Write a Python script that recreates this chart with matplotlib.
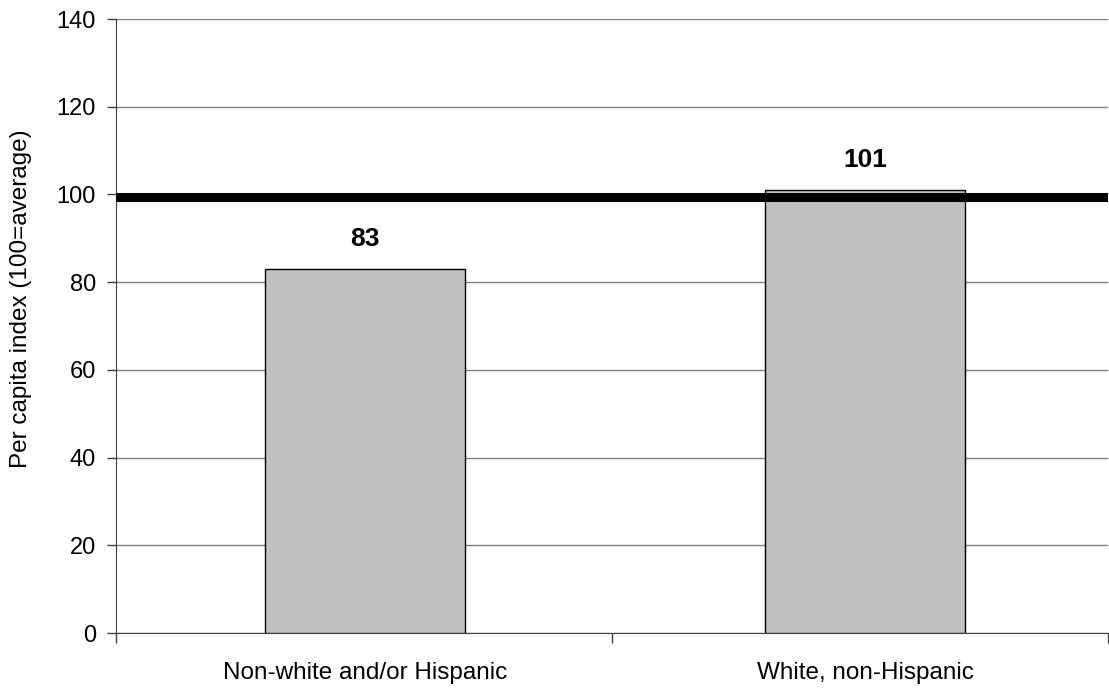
import matplotlib
matplotlib.use("Agg")
import matplotlib.pyplot as plt

categories = ["Non-white and/or Hispanic", "White, non-Hispanic"]
values = [83, 101]
labels = ["83", "101"]
avg_line = 99.5
yticks = [0, 20, 40, 60, 80, 100, 120, 140]

plt.rcParams['font.family'] = ['Liberation Sans', 'DejaVu Sans']

fig = plt.figure(figsize=(11.09, 6.89), dpi=100)
ax = fig.add_axes([116/1109, 1 - 633/689, (1108 - 116)/1109, (633 - 19)/689])

x = list(range(len(categories)))
ax.bar(x, values, width=0.4, color="#c0c0c0", edgecolor="black", linewidth=1.0, zorder=3)
for xi, v, lab in zip(x, values, labels):
    ax.text(xi, v + 6.9, lab, ha="center", va="center", fontsize=19, fontweight="bold")

ax.axhline(avg_line, color="black", linewidth=6.5, zorder=4)

xl, xr = -0.497, 1.485
ax.set_xlim(xl, xr)
ax.set_ylim(0, 140)
ax.set_yticks(yticks)
ax.tick_params(axis="y", labelsize=17, direction="out", length=6.5, width=1, color="#404040", pad=8)
ax.set_xticks([xl, (xl + xr) / 2, xr])
ax.set_xticklabels([])
ax.tick_params(axis="x", direction="out", length=7, width=1, color="#404040")
ax.set_xticks(x, minor=True)
ax.set_xticklabels(categories, minor=True)
ax.tick_params(axis="x", which="minor", length=0, labelsize=17.5, pad=21)

ax.grid(axis="y", color="#808080", linewidth=1.0, zorder=0)
for s in ["top", "right"]:
    ax.spines[s].set_visible(False)
ax.spines["left"].set_color("#404040")
ax.spines["bottom"].set_color("#404040")

ax.set_ylabel("Per capita index (100=average)", fontsize=17.5)
ax.yaxis.set_label_coords(-0.0847, 0.544)

fig.savefig("out.png", dpi=100)
